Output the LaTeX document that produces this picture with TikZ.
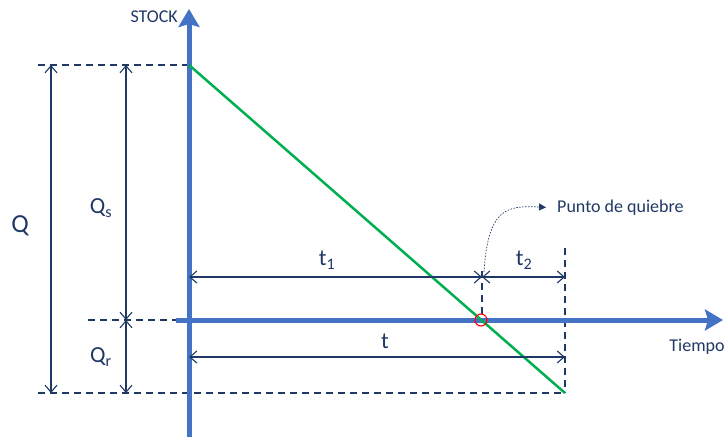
\documentclass[tikz,border=0pt]{standalone}
\usepackage{fontspec}
\setmainfont{Carlito}
\usetikzlibrary{arrows.meta}

\definecolor{navy}{HTML}{1F3864}
\definecolor{axisblue}{HTML}{4472C4}
\definecolor{stockgreen}{HTML}{00B050}

\begin{document}
\begin{tikzpicture}[
    x=1pt, y=-1pt,
    axis/.style={axisblue, line width=5pt, -{Stealth[length=18pt,width=21pt,inset=3pt]}},
    guide/.style={navy, line width=2pt, dash pattern=on 7pt off 5pt},
    dim/.style={navy, line width=1.1pt, {Straight Barb[length=7pt,width=12pt]}-{Straight Barb[length=7pt,width=12pt]}},
    lbl/.style={navy, font=\fontsize{18}{20}\selectfont, inner sep=1pt},
    big/.style={navy, font=\fontsize{23}{26}\selectfont, inner sep=1pt}
  ]
    \useasboundingbox (0,0) rectangle (725,439);
    % key points
    \coordinate (o) at (189,320);
    \coordinate (top) at (189,65);
    \coordinate (fin) at (565,393);
    \coordinate (brk) at (482,320);
    % guide lines
    \draw[guide] (38,65) -- (top);
    \draw[guide] (88,320) -- (o);
    \draw[guide] (38,393) -- (fin);
    \draw[guide] (565,248) -- (fin);
    \draw[guide] (482,271) -- (brk);
    % axes
    \draw[axis] (189,437) -- (189,9);
    \draw[axis] (176,320) -- (723,320);
    % stock level
    \draw[stockgreen, line width=2.5pt] (top) -- (fin);
    \draw[red, line width=1.1pt] (481,320) circle (6);
    % dimensions
    \draw[dim] (51,65) -- (51,393);
    \draw[dim] (126,65) -- (126,320);
    \draw[dim] (126,320) -- (126,393);
    \draw[dim] (189,277) -- (482,277);
    \draw[dim] (482,277) -- (565,277);
    \draw[dim] (189,357) -- (565,357);
    % labels
    \node[lbl, anchor=east] (stock) at (179,17) {STOCK};
    \node[lbl] (tiempo) at (697,347) {Tiempo};
    \node[lbl, anchor=west] (quiebre) at (556,208) {Punto de quiebre};
    \node[big, font=\fontsize{26}{28}\selectfont] (q) at (20,226) {Q};
    \node[big] (qs) at (101,208) {Q\textsubscript{s}};
    \node[big] (qr) at (101,357) {Q\textsubscript{r}};
    \node[big] (t1) at (327,260) {t\textsubscript{1}};
    \node[big] (t2) at (524,260) {t\textsubscript{2}};
    \node[big] (t) at (385,341) {t};
    % break point callout
    \draw[navy, line width=0.7pt, dash pattern=on 1.5pt off 1.5pt, shorten >=10pt, -{Triangle[length=7pt,width=7pt]}]
      (484,272) .. controls (488,210) and (505,205) .. (quiebre.west);
  \end{tikzpicture}
\end{document}
